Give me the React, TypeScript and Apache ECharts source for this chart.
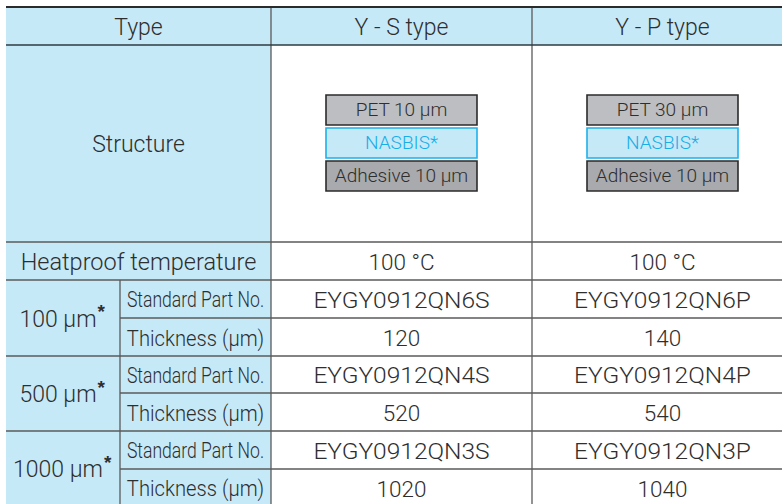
import React, { useEffect, useRef } from "react";
import * as echarts from "echarts";

const typeHeaders = ["Type", "Y - S type", "Y - P type"];
const structureLabel = "Structure";
const structureLayers = [
  ["PET 10 µm", "NASBIS*", "Adhesive 10 µm"],
  ["PET 30 µm", "NASBIS*", "Adhesive 10 µm"],
];
const heatproofLabel = "Heatproof temperature";
const heatproof = ["100 °C", "100 °C"];
const sizeGroups = ["100 µm", "500 µm", "1000 µm"];
const subLabels = ["Standard Part No.", "Thickness (µm)"];
const partNosS = ["EYGY0912QN6S", "EYGY0912QN4S", "EYGY0912QN3S"];
const partNosP = ["EYGY0912QN6P", "EYGY0912QN4P", "EYGY0912QN3P"];
const thicknessS = [120, 520, 1020];
const thicknessP = [140, 540, 1040];

const FONT = "Roboto, 'Liberation Sans', Helvetica, Arial, sans-serif";
const FW = 300;
const TXT = "#2e2e2e";
const BLUE = "#c6e9f8";
const GRID = "#5a5a5a";

function measure(t: string, size: number, weight: number | string = FW) {
  const c = document.createElement("canvas").getContext("2d");
  if (!c) return t.length * size * 0.5;
  c.font = `${weight} ${size}px ${FONT}`;
  return c.measureText(t).width;
}

export default function App() {
  const ref = useRef<HTMLDivElement>(null);
  useEffect(() => {
    if (!ref.current) return;
    const chart = echarts.init(ref.current, null, { renderer: "svg" });
    const xs = [6, 120, 271, 532, 793];
    const ys = [7, 45, 242, 280, 318, 356, 393, 431, 469, 506];
    const els: any[] = [];
    const text = (t: string, x: number, y: number, size: number, extra: any = {}, sx = 1) => ({
      type: "text",
      x,
      y,
      scaleX: sx,
      style: {
        text: t,
        fontFamily: FONT,
        fontWeight: FW,
        fontSize: size,
        fill: TXT,
        align: "center",
        verticalAlign: "middle",
        ...extra,
      },
    });
    const line = (x1: number, y1: number, x2: number, y2: number, w = 1.3, c = GRID) => ({
      type: "line",
      shape: { x1, y1, x2, y2 },
      style: { stroke: c, lineWidth: w },
    });
    // fills
    els.push({ type: "rect", shape: { x: xs[0], y: ys[0], width: xs[4] - xs[0], height: ys[1] - ys[0] }, style: { fill: BLUE } });
    els.push({ type: "rect", shape: { x: xs[0], y: ys[1], width: xs[2] - xs[0], height: ys[9] - ys[1] }, style: { fill: BLUE } });
    els.push({ type: "rect", shape: { x: xs[2], y: ys[1], width: xs[4] - xs[2], height: ys[9] - ys[1] }, style: { fill: "#ffffff" } });
    // grid lines
    els.push(line(xs[2], ys[0], xs[2], ys[9]));
    els.push(line(xs[3], ys[0], xs[3], ys[9]));
    els.push(line(xs[1], ys[3], xs[1], ys[9]));
    els.push(line(xs[0], ys[1], xs[4], ys[1], 1.4, "#2e3a40"));
    [2, 3, 5, 7].forEach((i) => els.push(line(xs[0], ys[i], xs[4], ys[i])));
    [4, 6, 8].forEach((i) => els.push(line(xs[1], ys[i], xs[4], ys[i])));
    els.push(line(xs[0], ys[0], xs[4], ys[0], 2.2, "#2b2b2b"));

    const cx = [(xs[0] + xs[2]) / 2, (xs[2] + xs[3]) / 2, (xs[3] + xs[4]) / 2];
    const cy = (i: number) => (ys[i] + ys[i + 1]) / 2;
    // header
    typeHeaders.forEach((h, i) => els.push(text(h, cx[i], cy(0) + 1, 23)));
    // structure
    els.push(text(structureLabel, cx[0], cy(1) + 1, 23));
    structureLayers.forEach((layers, c) => {
      const bw = 151;
      const bx = cx[c + 1] - bw / 2;
      layers.forEach((lab, k) => {
        const by = 95 + k * 33;
        const isN = k === 1;
        els.push({
          type: "rect",
          shape: { x: bx, y: by, width: bw, height: 30 },
          style: {
            fill: isN ? BLUE : k === 0 ? "#bdbec1" : "#a9aaad",
            stroke: isN ? "#1fb0ea" : "#2b2b2b",
            lineWidth: 1.6,
          },
        });
        els.push(text(lab, cx[c + 1], by + 15.5, 18.5, { fill: isN ? "#18ade7" : TXT }, 1.03));
      });
    });
    // heatproof
    els.push(text(heatproofLabel, cx[0], cy(2) + 1, 23.5));
    heatproof.forEach((v, i) => els.push(text(v, cx[i + 1], cy(2) + 1, 22.5)));
    // groups
    const subCx = (xs[1] + xs[2]) / 2;
    sizeGroups.forEach((g, gi) => {
      const r0 = 3 + gi * 2;
      const gy = (ys[r0] + ys[r0 + 2]) / 2;
      const wm = measure(g, 23);
      const wa = 10;
      const gx0 = (xs[0] + xs[1]) / 2 - (wm + wa) / 2;
      els.push(text(g, gx0, gy + 1, 23, { align: "left" }));
      els.push({
        type: "text",
        x: gx0 + wm + 1,
        y: gy - 16,
        style: { text: "*", fontFamily: "'Liberation Sans', Arial, sans-serif", fontWeight: "bold", fontSize: 19, fill: TXT, align: "left", verticalAlign: "top" },
      });
      els.push(text(subLabels[0], subCx, cy(r0) + 1, 22, {}, 0.8));
      els.push(text(subLabels[1], subCx, cy(r0 + 1) + 1, 22, {}, 0.92));
      els.push(text(partNosS[gi], cx[1], cy(r0) + 1, 22.5, {}, 1.09));
      els.push(text(partNosP[gi], cx[2], cy(r0) + 1, 22.5, {}, 1.09));
      els.push(text(String(thicknessS[gi]), cx[1], cy(r0 + 1) + 1, 22.5));
      els.push(text(String(thicknessP[gi]), cx[2], cy(r0 + 1) + 1, 22.5));
    });

    chart.setOption({
      animation: false,
      backgroundColor: "#ffffff",
      graphic: { elements: els },
    });
    return () => chart.dispose();
  }, []);
  return <div ref={ref} style={{ position: "fixed", left: 0, top: 0, width: 782, height: 504 }} />;
}
